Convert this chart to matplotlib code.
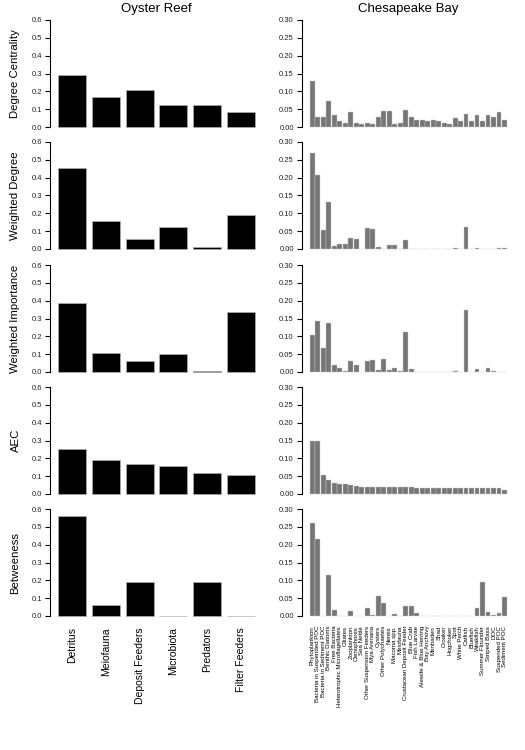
import matplotlib
matplotlib.use("Agg")
import matplotlib.pyplot as plt
import numpy as np

plt.rcParams['font.family'] = ['Liberation Sans', 'DejaVu Sans']

# ---------------- data ----------------
metrics = ["Degree Centrality", "Weighted Degree", "Weighted Importance", "AEC", "Betweeness"]

oyster_groups = ["Detritus", "Meiofauna", "Deposit Feeders", "Microbiota", "Predators", "Filter Feeders"]
oyster_degree = [0.290, 0.167, 0.208, 0.125, 0.125, 0.083]
oyster_wdegree = [0.455, 0.158, 0.054, 0.125, 0.010, 0.193]
oyster_wimportance = [0.385, 0.107, 0.061, 0.102, 0.003, 0.338]
oyster_aec = [0.255, 0.192, 0.171, 0.159, 0.117, 0.104]
oyster_betweenness = [0.562, 0.062, 0.188, 0.0, 0.188, 0.0]

bay_groups = ["Phytoplankton", "Bacteria in Suspended POC", "Bacteria in Sediment POC",
              "Benthic Diatoms", "Free Bacteria", "Heterotrophic Microflagellates",
              "Ciliates", "Zooplankton", "Ctenophores", "Sea Nettle",
              "Other Suspension Feeders", "Mya Arenaria", "Oysters", "Other Polychaetes",
              "Nereis", "Macoma spp.", "Meiofauna", "Crustacean Deposit Feeder",
              "Blue Crab", "Fish Larvae", "Alewife & Blue Herring", "Bay Anchovy",
              "Menhaden", "Shad", "Croaker", "Hogchoker", "Spot", "White Perch",
              "Catfish", "Bluefish", "Weakfish", "Summer Flounder", "Striped Bass",
              "DOC", "Suspended POC", "Sediment POC"]
bay_degree = [0.128, 0.029, 0.029, 0.074, 0.033, 0.017, 0.012, 0.041, 0.012, 0.008,
              0.012, 0.008, 0.029, 0.045, 0.045, 0.008, 0.012, 0.049, 0.029, 0.020,
              0.020, 0.016, 0.020, 0.016, 0.012, 0.008, 0.025, 0.016, 0.037, 0.016,
              0.033, 0.016, 0.033, 0.029, 0.041, 0.020]
bay_wdegree = [0.268, 0.207, 0.053, 0.131, 0.008, 0.015, 0.015, 0.030, 0.028, 0.0,
               0.060, 0.055, 0.005, 0.001, 0.011, 0.011, 0.0, 0.025, 0.0005, 0.0005,
               0.0005, 0.0005, 0.0005, 0.0005, 0.0005, 0.0005, 0.003, 0.0, 0.061, 0.0,
               0.003, 0.001, 0.001, 0.001, 0.002, 0.002]
bay_wimportance = [0.105, 0.144, 0.066, 0.138, 0.019, 0.011, 0.004, 0.031, 0.019, 0.0,
                   0.030, 0.034, 0.007, 0.036, 0.006, 0.010, 0.002, 0.113, 0.008, 0.0,
                   0.0, 0.0, 0.0, 0.0, 0.0, 0.0, 0.002, 0.0, 0.174, 0.0,
                   0.008, 0.001, 0.011, 0.002, 0.001, 0.0]
bay_aec = [0.149, 0.149, 0.053, 0.038, 0.030, 0.027, 0.027, 0.024, 0.022, 0.021,
           0.021, 0.021, 0.020, 0.019, 0.019, 0.019, 0.019, 0.019, 0.019, 0.018,
           0.018, 0.018, 0.018, 0.018, 0.018, 0.018, 0.018, 0.018, 0.017, 0.017,
           0.017, 0.016, 0.016, 0.016, 0.016, 0.012]
bay_betweenness = [0.261, 0.216, 0.0, 0.114, 0.018, 0.0, 0.0, 0.014, 0.0, 0.0,
                   0.023, 0.002, 0.055, 0.037, 0.0, 0.005, 0.0, 0.029, 0.029, 0.008,
                   0.0, 0.0, 0.0, 0.0, 0.0, 0.001, 0.0, 0.0, 0.0, 0.0,
                   0.022, 0.094, 0.012, 0.003, 0.008, 0.053]

oyster_rows = [oyster_degree, oyster_wdegree, oyster_wimportance, oyster_aec, oyster_betweenness]
bay_rows = [bay_degree, bay_wdegree, bay_wimportance, bay_aec, bay_betweenness]

oyster_ticks = [0.0, 0.1, 0.2, 0.3, 0.4, 0.5, 0.6]
bay_ticks = [0.00, 0.05, 0.10, 0.15, 0.20, 0.25, 0.30]

# ---------------- layout ----------------
W, H = 525, 750
fig = plt.figure(figsize=(W / 100, H / 100), dpi=100)

zero_px = [127, 249, 372, 494, 616]   # pixel row of the 0 baseline
data_h = 107.0                       # pixel height of the full tick range
pad = 0.04


def make_axes(left_px, zero_y, n):
    xmin, xmax = 0.2, 0.2 + 1.2 * n - 0.2
    xr = xmax - xmin
    unit = 197.0 / xr
    ax_w = xr * (1 + 2 * pad) * unit
    ax_h = data_h * (1 + 2 * pad)
    bottom_px = zero_y + pad * data_h
    ax = fig.add_axes([left_px / W, (H - bottom_px) / H, ax_w / W, ax_h / H])
    ax.set_xlim(xmin - pad * xr, xmax + pad * xr)
    return ax, ax_w


def style(ax, ticks, fmt):
    top = ticks[-1]
    ax.set_ylim(-pad * top, top * (1 + pad))
    for s in ["top", "right", "bottom"]:
        ax.spines[s].set_visible(False)
    ax.spines["left"].set_bounds(0, top)
    ax.spines["left"].set_linewidth(0.8)
    ax.set_yticks(ticks)
    ax.set_yticklabels([fmt.format(t) for t in ticks])
    ax.tick_params(axis="y", length=3.5, width=0.8, pad=2.5, labelsize=5.5,
                   labelcolor="#222222")
    ax.set_xticks([])
    ax.patch.set_visible(False)


for r in range(5):
    # Oyster reef
    ax, ax_w = make_axes(50.1, zero_px[r], len(oyster_groups))
    x = 0.7 + 1.2 * np.arange(len(oyster_groups))
    ax.bar(x, oyster_rows[r], width=1.0, color="black", edgecolor="#b0b0b0", linewidth=0.5)
    style(ax, oyster_ticks, "{:.1f}")
    ax.set_ylabel(metrics[r], fontsize=8.2)
    ax.yaxis.set_label_coords((20.5 - 50.1) / ax_w, 0.5)
    if r == 0:
        ax.set_title("Oyster Reef", fontsize=9.5, pad=3)
    if r == 4:
        ax.set_xticks(x)
        ax.set_xticklabels(oyster_groups, rotation=90, fontsize=7.5, va="top")
        ax.tick_params(axis="x", length=0, pad=5)

    # Chesapeake bay
    ax2, _ = make_axes(302.1, zero_px[r], len(bay_groups))
    x2 = 0.7 + 1.2 * np.arange(len(bay_groups))
    ax2.bar(x2, bay_rows[r], width=1.0, color="#767676", edgecolor="#c8c8c8", linewidth=0.3)
    style(ax2, bay_ticks, "{:.2f}")
    if r == 0:
        ax2.set_title("Chesapeake Bay", fontsize=9.5, pad=3)
    if r == 4:
        ax2.set_xticks(x2)
        ax2.set_xticklabels(bay_groups, rotation=90, fontsize=4.4, va="top")
        ax2.tick_params(axis="x", length=0, pad=4)

fig.savefig("out.png", dpi=100)
